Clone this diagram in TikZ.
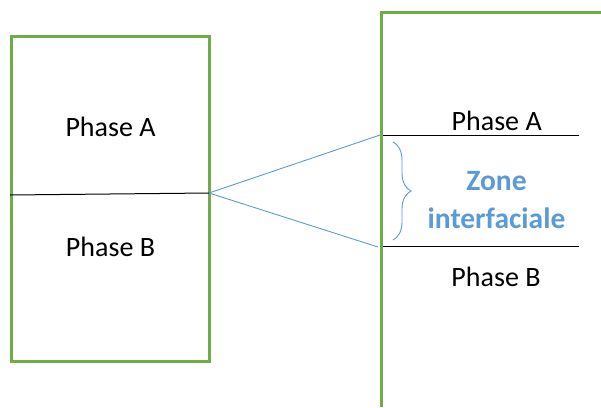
\documentclass[tikz,border=0pt]{standalone}
\usepackage{fontspec}
\setmainfont{Carlito}
\usetikzlibrary{decorations.pathreplacing}
\definecolor{framegreen}{HTML}{70AD47}
\definecolor{accentblue}{HTML}{5B9BD5}
\tikzset{
  frame/.style={draw=framegreen, line width=3pt},
  sepline/.style={draw=black, line width=1pt},
  zoomline/.style={draw=accentblue, line width=0.9pt},
  phaselabel/.style={anchor=base, inner sep=0pt, font=\fontsize{28}{32}\selectfont},
  zonelabel/.style={anchor=base, inner sep=0pt, text=accentblue, font=\bfseries\fontsize{29.5}{34}\selectfont}
}
\begin{document}
\begin{tikzpicture}[x=1pt, y=-1pt]
  \useasboundingbox (0,0) rectangle (601,407);
  % left sample
  \draw[frame] (11,36) rectangle (209,361);
  \coordinate (iL) at (10,195);
  \coordinate (iR) at (209,193);
  \draw[sepline] (iL) -- (iR);
  \node[phaselabel] (la) at (110.5,136.7) {Phase A};
  \node[phaselabel] (lb) at (110.5,256.7) {Phase B};
  % magnified view of the interface
  \coordinate (topA) at (381,135.5);
  \coordinate (topB) at (381,246.7);
  \draw[sepline] (topA) -- (579,135.5);
  \draw[sepline] (topB) -- (579,246.7);
  \draw[zoomline] (iR) -- (383,134);
  \draw[zoomline] (iR) -- (378,247);
  \draw[frame] (381,407) -- (381,12) -- (601,12);
  \draw[accentblue, line width=0.9pt, decorate, decoration={brace, amplitude=18pt, aspect=0.5}]
    (393,142) -- (393,240);
  \node[phaselabel] (ra) at (496.7,130) {Phase A};
  \node[phaselabel] (rb) at (496,286.7) {Phase B};
  \node[zonelabel] (z1) at (496.5,190) {Zone};
  \node[zonelabel] (z2) at (496.5,228.3) {interfaciale};
\end{tikzpicture}
\end{document}
